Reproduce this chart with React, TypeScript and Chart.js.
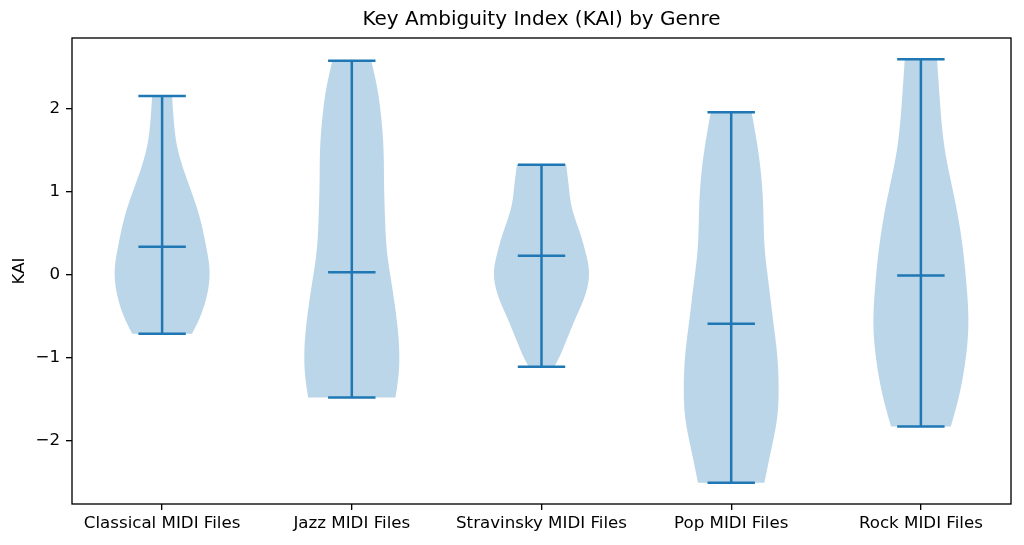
import React, { useEffect, useRef } from 'react';
import { Chart, registerables } from 'chart.js';

Chart.register(...registerables);

// genres along the x axis
const genres = [
  'Classical MIDI Files',
  'Jazz MIDI Files',
  'Stravinsky MIDI Files',
  'Pop MIDI Files',
  'Rock MIDI Files',
];

// summary lines: min, max and mean of KAI per genre
const kaiMin = [-0.711, -1.48, -1.11, -2.509, -1.83];
const kaiMax = [2.157, 2.58, 1.325, 1.96, 2.599];
const kaiMean = [0.337, 0.03, 0.23, -0.59, -0.01];

// density outline per genre: KAI values and relative density (1 = widest)
const classicalKai = [2.157, 1.9, 1.54, 1.14, 0.74, 0.335, 0.05, -0.307, -0.55, -0.711];
const classicalDensity = [0.21, 0.24, 0.32, 0.53, 0.77, 0.93, 1.0, 0.92, 0.77, 0.63];

const jazzKai = [2.58, 2.3, 1.9, 1.49, 1.09, 0.69, 0.29, -0.11, -0.51, -0.92, -1.24, -1.48];
const jazzDensity = [0.41, 0.52, 0.62, 0.67, 0.68, 0.7, 0.74, 0.84, 0.94, 1.0, 0.98, 0.92];

const stravinskyKai = [1.325, 1.09, 0.81, 0.49, 0.29, 0.05, -0.23, -0.51, -0.8, -1.0, -1.11];
const stravinskyDensity = [0.52, 0.57, 0.64, 0.82, 0.92, 1.0, 0.93, 0.73, 0.52, 0.37, 0.27];

const popKai = [1.96, 1.49, 0.89, 0.29, -0.11, -0.58, -0.91, -1.4, -1.72, -2.12, -2.509];
const popDensity = [0.43, 0.57, 0.67, 0.71, 0.79, 0.89, 0.96, 1.0, 0.97, 0.84, 0.7];

const rockKai = [2.599, 2.1, 1.49, 0.89, 0.29, -0.11, -0.63, -1.11, -1.52, -1.83];
const rockDensity = [0.34, 0.4, 0.51, 0.72, 0.89, 0.96, 1.0, 0.92, 0.78, 0.63];

const yTicks = [-2, -1, 0, 1, 2];

const outlines = [
  { kai: classicalKai, density: classicalDensity },
  { kai: jazzKai, density: jazzDensity },
  { kai: stravinskyKai, density: stravinskyDensity },
  { kai: popKai, density: popDensity },
  { kai: rockKai, density: rockDensity },
];

const BLUE = '#1f77b4';
const FILL = 'rgba(31,119,180,0.3)';
const FONT = "'DejaVu Sans', sans-serif";

// natural cubic spline through (xs, ys), sampled n times between ends
function splineSamples(xIn: number[], yIn: number[], n: number) {
  const idx = xIn.map((_, i) => i).sort((a, b) => xIn[a] - xIn[b]);
  const x = idx.map((i) => xIn[i]);
  const y = idx.map((i) => yIn[i]);
  const m = x.length;
  const h = x.slice(1).map((v, i) => v - x[i]);
  const alpha = new Array(m).fill(0);
  for (let i = 1; i < m - 1; i++) {
    alpha[i] = (3 / h[i]) * (y[i + 1] - y[i]) - (3 / h[i - 1]) * (y[i] - y[i - 1]);
  }
  const l = new Array(m).fill(1);
  const mu = new Array(m).fill(0);
  const z = new Array(m).fill(0);
  for (let i = 1; i < m - 1; i++) {
    l[i] = 2 * (x[i + 1] - x[i - 1]) - h[i - 1] * mu[i - 1];
    mu[i] = h[i] / l[i];
    z[i] = (alpha[i] - h[i - 1] * z[i - 1]) / l[i];
  }
  const c = new Array(m).fill(0);
  const b = new Array(m).fill(0);
  const d = new Array(m).fill(0);
  for (let j = m - 2; j >= 0; j--) {
    c[j] = z[j] - mu[j] * c[j + 1];
    b[j] = (y[j + 1] - y[j]) / h[j] - (h[j] * (c[j + 1] + 2 * c[j])) / 3;
    d[j] = (c[j + 1] - c[j]) / (3 * h[j]);
  }
  const out: { v: number; w: number }[] = [];
  for (let k = 0; k <= n; k++) {
    const v = x[0] + ((x[m - 1] - x[0]) * k) / n;
    let j = 0;
    while (j < m - 2 && v > x[j + 1]) j++;
    const dx = v - x[j];
    out.push({ v, w: Math.max(0, y[j] + b[j] * dx + c[j] * dx * dx + d[j] * dx * dx * dx) });
  }
  return out;
}

const violinPlugin = {
  id: 'violins',
  beforeDatasetsDraw(chart: any) {
    const { ctx, scales, chartArea } = chart;
    const xs = scales.x;
    const ys = scales.y;
    ctx.save();
    ctx.beginPath();
    ctx.rect(chartArea.left, chartArea.top, chartArea.right - chartArea.left, chartArea.bottom - chartArea.top);
    ctx.clip();

    outlines.forEach((o, i) => {
      const pos = i + 1;
      const samples = splineSamples(o.kai, o.density, 100);
      ctx.beginPath();
      samples.forEach((s, k) => {
        const px = xs.getPixelForValue(pos + 0.25 * s.w);
        const py = ys.getPixelForValue(s.v);
        if (k === 0) ctx.moveTo(px, py);
        else ctx.lineTo(px, py);
      });
      for (let k = samples.length - 1; k >= 0; k--) {
        const s = samples[k];
        ctx.lineTo(xs.getPixelForValue(pos - 0.25 * s.w), ys.getPixelForValue(s.v));
      }
      ctx.closePath();
      ctx.fillStyle = FILL;
      ctx.fill();
    });

    ctx.strokeStyle = BLUE;
    ctx.lineWidth = 2.5;
    ctx.lineCap = 'butt';
    genres.forEach((_, i) => {
      const pos = i + 1;
      const cx = xs.getPixelForValue(pos);
      const x0 = xs.getPixelForValue(pos - 0.125);
      const x1 = xs.getPixelForValue(pos + 0.125);
      [kaiMean[i], kaiMin[i], kaiMax[i]].forEach((v) => {
        const y = ys.getPixelForValue(v);
        ctx.beginPath();
        ctx.moveTo(x0, y);
        ctx.lineTo(x1, y);
        ctx.stroke();
      });
      ctx.beginPath();
      ctx.moveTo(cx, ys.getPixelForValue(kaiMin[i]));
      ctx.lineTo(cx, ys.getPixelForValue(kaiMax[i]));
      ctx.stroke();
    });
    ctx.restore();
  },
  afterDraw(chart: any) {
    const { ctx, chartArea } = chart;
    ctx.save();
    ctx.strokeStyle = '#000';
    ctx.lineWidth = 1.33;
    ctx.strokeRect(chartArea.left, chartArea.top, chartArea.right - chartArea.left, chartArea.bottom - chartArea.top);
    ctx.restore();
  },
};

const ViolinChart: React.FC = () => {
  const canvasRef = useRef<HTMLCanvasElement>(null);
  const chartInstance = useRef<Chart | null>(null);

  useEffect(() => {
    document.body.style.margin = '0';
    if (chartInstance.current) chartInstance.current.destroy();
    if (!canvasRef.current) return;
    const ctx = canvasRef.current.getContext('2d');
    if (!ctx) return;

    // @ts-ignore
    chartInstance.current = new Chart(ctx, {
      type: 'scatter',
      data: {
        datasets: [
          {
            label: 'KAI mean',
            data: kaiMean.map((m, i) => ({ x: i + 1, y: m })),
            pointRadius: 0,
            pointHoverRadius: 0,
          },
        ],
      },
      options: {
        responsive: false,
        animation: false,
        layout: { padding: { top: 0, right: 13, bottom: 0, left: 0 } },
        plugins: {
          legend: { display: false },
          tooltip: { enabled: false },
          title: {
            display: true,
            text: 'Key Ambiguity Index (KAI) by Genre',
            fullSize: false,
            color: '#000',
            font: { family: FONT, size: 20, weight: 'normal', lineHeight: 1.2 },
            padding: { top: 8, bottom: 6 },
          },
        },
        scales: {
          x: {
            type: 'linear',
            min: 0.525,
            max: 5.475,
            afterBuildTicks: (scale: any) => {
              scale.ticks = genres.map((_, i) => ({ value: i + 1 }));
            },
            afterFit: (scale: any) => {
              scale.height = 41;
            },
            border: { display: false },
            grid: { drawOnChartArea: false, drawTicks: true, tickLength: 6, color: '#000', lineWidth: 1.33 },
            ticks: {
              autoSkip: false,
              maxRotation: 0,
              padding: 4,
              color: '#000',
              font: { family: FONT, size: 16.67 },
              callback: (v: any) => genres[Math.round(v) - 1] ?? '',
            },
          },
          y: {
            type: 'linear',
            min: -2.765,
            max: 2.855,
            afterBuildTicks: (scale: any) => {
              scale.ticks = yTicks.map((v) => ({ value: v }));
            },
            afterFit: (scale: any) => {
              scale.width = 72;
            },
            border: { display: false },
            grid: { drawOnChartArea: false, drawTicks: true, tickLength: 6, color: '#000', lineWidth: 1.33 },
            ticks: {
              padding: 6,
              color: '#000',
              font: { family: FONT, size: 16.67 },
              callback: (v: any) => String(v).replace('-', '\u2212'),
            },
            title: {
              display: true,
              text: 'KAI',
              color: '#000',
              font: { family: FONT, size: 16.67, lineHeight: 1.2 },
              padding: { top: 10, bottom: 0 },
            },
          },
        },
      },
      plugins: [violinPlugin],
    });

    return () => {
      if (chartInstance.current) {
        chartInstance.current.destroy();
        chartInstance.current = null;
      }
    };
  }, []);

  return <canvas ref={canvasRef} width={1024} height={545} style={{ display: 'block' }}></canvas>;
};

export default function App() {
  return <ViolinChart />;
}
